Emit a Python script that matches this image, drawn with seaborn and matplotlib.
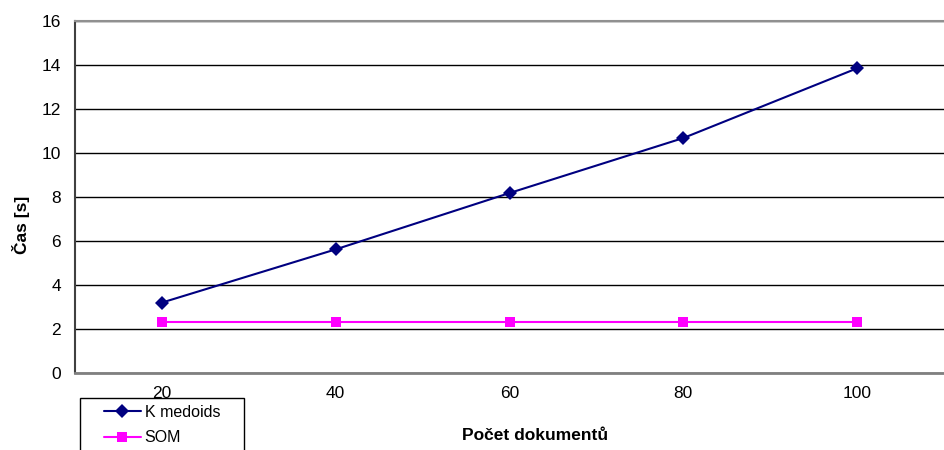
import matplotlib
matplotlib.use("Agg")
import matplotlib.pyplot as plt
from matplotlib.patches import Rectangle
import seaborn as sns
import pandas as pd
import numpy as np

# Processing time versus number of documents
documents = ["20", "40", "60", "80", "100"]
kmedoids_time = [3.2, 5.62, 8.18, 10.68, 13.85]
som_time = [2.33, 2.33, 2.33, 2.33, 2.33]
series_names = ["K medoids", "SOM"]
y_ticks = [0, 2, 4, 6, 8, 10, 12, 14, 16]

positions = list(range(len(documents)))
df = pd.DataFrame({
    "pos": positions * 2,
    "Čas [s]": kmedoids_time + som_time,
    "Metoda": [series_names[0]] * len(documents) + [series_names[1]] * len(documents),
})

sns.set_theme(style="white")
plt.rcParams["font.family"] = ["Liberation Sans", "DejaVu Sans"]
plt.rcParams["text.color"] = "black"
plt.rcParams["xtick.labelcolor"] = "black"
plt.rcParams["ytick.labelcolor"] = "black"

W, H = 944, 450
fig = plt.figure(figsize=(W / 100, H / 100), dpi=100)
# plot area in pixels: left 75, top 21, bottom 373; continues past the right edge
left, top, bottom = 75, 21, 373
ax = fig.add_axes([left / W, 1 - bottom / H, (W - left) / W, (bottom - top) / H])

palette = {series_names[0]: "#000080", series_names[1]: "#FF00FF"}
markers = {series_names[0]: "D", series_names[1]: "s"}
msizes = {series_names[0]: 7, series_names[1]: 7}
sns.lineplot(data=df, x="pos", y="Čas [s]", hue="Metoda", style="Metoda",
             palette=palette, markers=markers, dashes=False, linewidth=1.5,
             markeredgewidth=0, ax=ax, legend=False, sort=False)
for line, name in zip(ax.lines, series_names):
    line.set_markersize(msizes[name])

step = 176.0
ax.set_xlim(-0.5, -0.5 + (W - left) / step)
ax.set_ylim(0, 16)
ax.set_yticks(y_ticks)
ax.set_yticklabels([str(t) for t in y_ticks])
ax.yaxis.grid(True, color="black", linewidth=1)
ax.xaxis.grid(False)
ax.set_axisbelow(True)

ax.set_xticks(positions)
ax.set_xticklabels(documents)
ax.set_xticks(np.arange(-0.5, len(documents), 1.0), minor=True)
ax.tick_params(axis="x", which="major", length=0, pad=9, labelsize=12.5, labelcolor="black")
ax.tick_params(axis="x", which="minor", length=4, width=1, color="#606060", direction="out")
ax.tick_params(axis="y", which="major", length=4, width=1, color="#404040", direction="out",
               pad=6, labelsize=12.5, labelcolor="black")

for name, sp in ax.spines.items():
    sp.set_visible(True)
ax.spines["top"].set_color("#909090")
ax.spines["top"].set_linewidth(1.5)
ax.spines["left"].set_color("#404040")
ax.spines["left"].set_linewidth(1.5)
ax.spines["bottom"].set_color("#808080")
ax.spines["bottom"].set_linewidth(2)
ax.spines["right"].set_visible(False)

ax.set_xlabel("")
ax.set_ylabel("")
fig.text(535 / W, 1 - 435 / H, "Počet dokumentů", ha="center", va="center",
         fontsize=12.5, fontweight="bold", color="black")
fig.text(21 / W, 1 - 225 / H, "Čas [s]", ha="center", va="center", rotation=90,
         fontsize=12.5, fontweight="bold", color="black")

# legend box, open at the bottom edge of the figure
fig.patches.append(Rectangle((80 / W, -0.05), 164 / W, 0.05 + (H - 398) / H,
                             transform=fig.transFigure, facecolor="white",
                             edgecolor="black", linewidth=1, zorder=5))
handles = [plt.Line2D([], [], color=palette[n], marker=markers[n], linewidth=1.5,
                      markersize=msizes[n], markeredgewidth=0)
           for n in series_names]
leg = fig.legend(handles, series_names, loc="upper left",
                 bbox_to_anchor=(104 / W, 1 - 405 / H), frameon=False,
                 fontsize=11.5, handlelength=2.3, handletextpad=0.25, labelspacing=0.65,
                 borderpad=0, borderaxespad=0, labelcolor="black")
leg.set_zorder(6)

fig.savefig("out.png", dpi=100)
